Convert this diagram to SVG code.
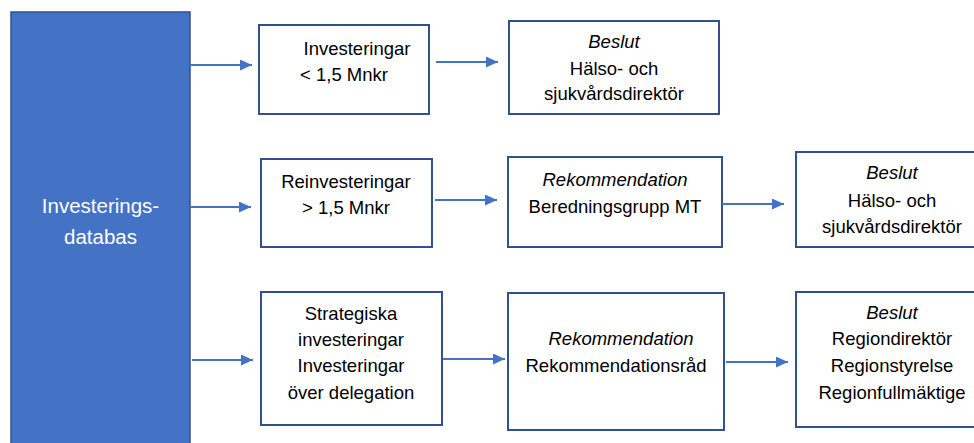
<svg xmlns="http://www.w3.org/2000/svg" width="974" height="443" viewBox="0 0 974 443">
<style>
.box{fill:#fff;stroke:#2F528F;stroke-width:2}
.t{font-family:"Liberation Sans",Arial,sans-serif;font-size:18.5px;fill:#000;text-anchor:middle}
.i{font-style:italic}
.w{font-family:"Liberation Sans",Arial,sans-serif;font-size:20.5px;fill:#fff;text-anchor:middle}
.c{stroke:#4472C4;stroke-width:2;fill:none;marker-end:url(#ah)}
</style>
<defs>
<marker id="ah" markerWidth="12" markerHeight="11" refX="12" refY="5.5" orient="auto" markerUnits="userSpaceOnUse">
<path d="M0,0 L12,5.5 L0,11 Z" fill="#4472C4"/>
</marker>
</defs>
<rect x="0" y="0" width="974" height="443" fill="#fff"/>
<g id="db">
<rect x="11" y="12" width="179" height="440" fill="#4472C4" stroke="#2F528F" stroke-width="1.5"/>
<text class="w" x="100.5" y="213">Investerings-</text>
<text class="w" x="100.5" y="244">databas</text>
</g>
<g id="n1">
<rect class="box" x="259" y="25" width="170" height="89"/>
<text class="t" x="357" y="55">Investeringar</text>
<text class="t" x="344" y="81">&lt; 1,5 Mnkr</text>
</g>
<g id="n2">
<rect class="box" x="509" y="21" width="210" height="93"/>
<text class="t i" x="614" y="48">Beslut</text>
<text class="t" x="614" y="75">Hälso- och</text>
<text class="t" x="614" y="100">sjukvårdsdirektör</text>
</g>
<g id="n3">
<rect class="box" x="261" y="159" width="171" height="88"/>
<text class="t" x="346" y="188">Reinvesteringar</text>
<text class="t" x="346" y="214">&gt; 1,5 Mnkr</text>
</g>
<g id="n4">
<rect class="box" x="508" y="157" width="214" height="90"/>
<text class="t i" x="615" y="186">Rekommendation</text>
<text class="t" x="615" y="213">Beredningsgrupp MT</text>
</g>
<g id="n5">
<rect class="box" x="796" y="152" width="192" height="95"/>
<text class="t i" x="892" y="179">Beslut</text>
<text class="t" x="892" y="207">Hälso- och</text>
<text class="t" x="892" y="233">sjukvårdsdirektör</text>
</g>
<g id="n6">
<rect class="box" x="261" y="292" width="181" height="133"/>
<text class="t" x="351" y="320">Strategiska</text>
<text class="t" x="351" y="346">investeringar</text>
<text class="t" x="351" y="372">Investeringar</text>
<text class="t" x="351" y="399">över delegation</text>
</g>
<g id="n7">
<rect class="box" x="508" y="293" width="216" height="137"/>
<text class="t i" x="621" y="345">Rekommendation</text>
<text class="t" x="616" y="372">Rekommendationsråd</text>
</g>
<g id="n8">
<rect class="box" x="796" y="292" width="192" height="135"/>
<text class="t i" x="892" y="319">Beslut</text>
<text class="t" x="892" y="345">Regiondirektör</text>
<text class="t" x="892" y="372">Regionstyrelse</text>
<text class="t" x="892" y="399">Regionfullmäktige</text>
</g>
<g id="connectors">
<line class="c" x1="190" y1="65" x2="252" y2="65"/>
<line class="c" x1="436" y1="62" x2="498" y2="62"/>
<line class="c" x1="190" y1="207" x2="251" y2="207"/>
<line class="c" x1="435" y1="200" x2="497" y2="200"/>
<line class="c" x1="722" y1="204" x2="784" y2="204"/>
<line class="c" x1="192" y1="360" x2="253" y2="360"/>
<line class="c" x1="443" y1="359" x2="505" y2="359"/>
<line class="c" x1="726" y1="362" x2="788" y2="362"/>
</g>
</svg>
